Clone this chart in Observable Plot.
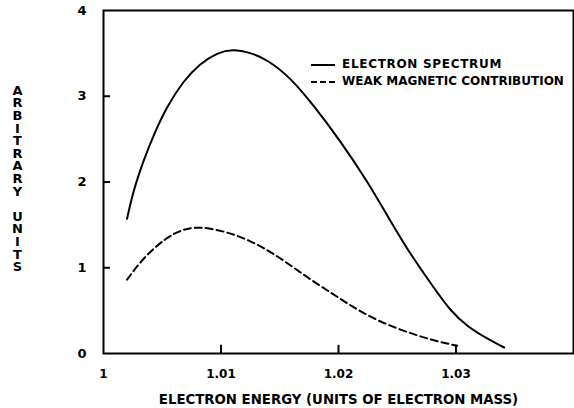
<!DOCTYPE html>
<html>
<head>
<meta charset="utf-8">
<script src="https://cdn.jsdelivr.net/npm/d3@7"></script>
<script src="https://cdn.jsdelivr.net/npm/@observablehq/plot@0.6"></script>
<style>
  html, body { margin: 0; padding: 0; background: #fff; }
  #wrap { position: relative; width: 574px; height: 408px; font-family: "DejaVu Sans", sans-serif; font-weight: bold; }
  #legend { position: absolute; left: 311px; top: 56px; font-size: 12px; color: #000; line-height: 17px; }
  #legend div { display: flex; align-items: center; white-space: nowrap; }
  #legend div.first { letter-spacing: 0.7px; }
  #legend svg { margin-right: 7px; }
</style>
</head>
<body>
<div id="wrap"></div>
<script>
// Electron spectrum (solid curve)
const spectrumEnergy = [1.0020, 1.0025, 1.0034, 1.0043, 1.0054, 1.0068, 1.0082, 1.0097, 1.0110, 1.0125, 1.0139, 1.0159, 1.0179, 1.0202, 1.0224, 1.0244, 1.0261, 1.0281, 1.0295, 1.0310, 1.0327, 1.0341];
const spectrumValue  = [1.57, 1.88, 2.25, 2.56, 2.88, 3.18, 3.38, 3.51, 3.55, 3.51, 3.43, 3.22, 2.89, 2.47, 2.02, 1.55, 1.16, 0.77, 0.50, 0.31, 0.17, 0.07];

// Weak magnetic contribution (dashed curve)
const magneticEnergy = [1.0020, 1.0034, 1.0054, 1.0068, 1.0082, 1.0102, 1.0125, 1.0148, 1.0173, 1.0199, 1.0224, 1.0253, 1.0281, 1.0301];
const magneticValue  = [0.86, 1.12, 1.36, 1.45, 1.48, 1.43, 1.32, 1.14, 0.89, 0.66, 0.44, 0.27, 0.15, 0.09];

// Axis ticks and labels
const xTicks = [1, 1.01, 1.02, 1.03];
const xTickLabels = ["1", "1.01", "1.02", "1.03"];
const yTicks = [0, 1, 2, 3, 4];
const yTickLabels = ["0", "1", "2", "3", "4"];
const xInnerTicks = [1.01, 1.02, 1.03];
const yInnerTicks = [1, 2, 3];
const seriesNames = ["ELECTRON SPECTRUM", "WEAK MAGNETIC CONTRIBUTION"];
const xTitle = "ELECTRON ENERGY (UNITS OF ELECTRON MASS)";
const yTitle = "ARBITRARY UNITS";

const spectrum = spectrumEnergy.map((e, i) => ({energy: e, value: spectrumValue[i]}));
const magnetic = magneticEnergy.map((e, i) => ({energy: e, value: magneticValue[i]}));
const yTitleStacked = yTitle.split("").map(c => c === " " ? "" : c).join("\n");

const plot = Plot.plot({
  width: 574,
  height: 408,
  marginLeft: 103,
  marginRight: 1,
  marginTop: 10,
  marginBottom: 55,
  style: {fontFamily: "DejaVu Sans, sans-serif", fontWeight: "bold", fontSize: "12px", color: "#000", background: "#fff"},
  x: {domain: [1, 1.04]},
  y: {domain: [0, 4]},
  marks: [
    Plot.frame({stroke: "#000", strokeWidth: 2}),
    Plot.axisX({ticks: [], label: xTitle, labelAnchor: "center", labelOffset: 50, labelArrow: false, fontSize: 13.3}),
    Plot.axisX({ticks: xTicks, tickSize: 0, tickPadding: 16, tickFormat: (d, i) => xTickLabels[i], label: null, fontSize: 12}),
    Plot.axisY({ticks: yTicks, tickSize: 0, tickPadding: 17, tickFormat: (d, i) => yTickLabels[i], label: null, fontSize: 13}),
    Plot.ruleX(xInnerTicks, {y1: 0, y2: 0.095, stroke: "#000", strokeWidth: 2}),
    Plot.ruleY(yInnerTicks, {x1: 1, x2: 1.0006, stroke: "#000", strokeWidth: 2}),
    Plot.line(spectrum, {x: "energy", y: "value", stroke: "#000", strokeWidth: 2, curve: "basis"}),
    Plot.line(magnetic, {x: "energy", y: "value", stroke: "#000", strokeWidth: 2, strokeDasharray: "7,4", curve: "basis"}),
    Plot.text([yTitleStacked], {frameAnchor: "left", dx: -86, dy: -3, text: d => d, lineHeight: 0.97, fontSize: 13, textAnchor: "middle", lineAnchor: "middle"})
  ]
});

const wrap = document.getElementById("wrap");
wrap.appendChild(plot);

const legend = document.createElement("div");
legend.id = "legend";
legend.innerHTML = `
  <div class="first"><svg width="24" height="10"><line x1="0" y1="5" x2="24" y2="5" stroke="#000" stroke-width="2"/></svg>${seriesNames[0]}</div>
  <div><svg width="24" height="10"><line x1="0" y1="5" x2="24" y2="5" stroke="#000" stroke-width="2" stroke-dasharray="6,3"/></svg>${seriesNames[1]}</div>`;
wrap.appendChild(legend);
</script>
</body>
</html>
